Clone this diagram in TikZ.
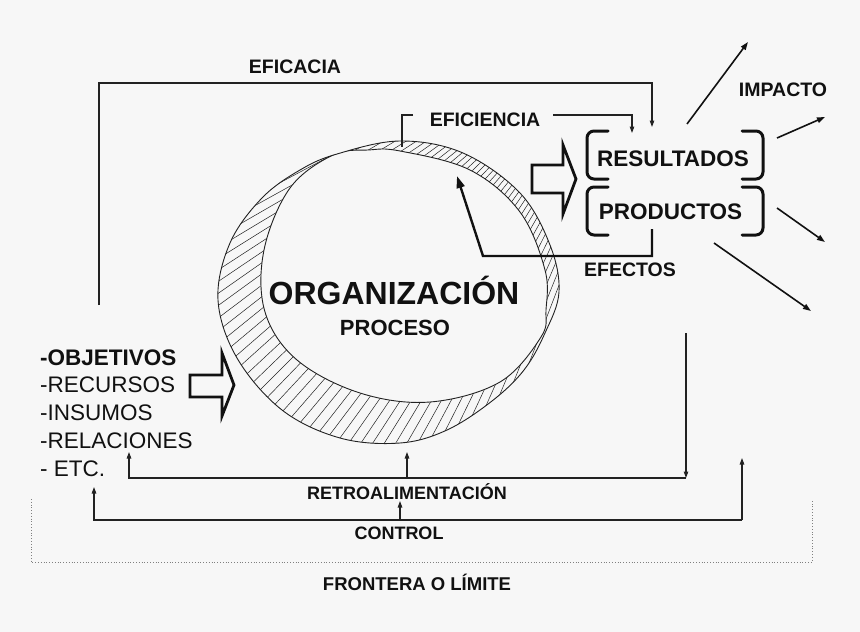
\documentclass[tikz,border=0pt]{standalone}
\usepackage{fontspec}
\setmainfont{Liberation Sans}
\usetikzlibrary{arrows.meta}
\definecolor{bg}{HTML}{F7F7F7}
\definecolor{ink}{HTML}{111111}
\definecolor{lin}{HTML}{222222}
\begin{document}
\begin{tikzpicture}[x=1pt,y=-1pt,
  lbl/.style={inner sep=0pt, anchor=base, text=ink, font=\bfseries\fontsize{19.5}{20}\selectfont},
  small/.style={lbl, font=\bfseries\fontsize{18}{18}\selectfont},
  big/.style={lbl, font=\bfseries\fontsize{22.5}{23}\selectfont},
  item/.style={inner sep=0pt, anchor=base west, text=ink, font=\fontsize{22.5}{23}\selectfont},
  conn/.style={draw=lin, line width=1.1pt},
  tipa/.style={-{Triangle[length=6.5pt,width=4.5pt]}},
  imp/.style={draw=ink, line width=1.6pt, -{Triangle[length=8pt,width=5.5pt]}},
  brk/.style={draw=ink, line width=3pt, rounded corners=7pt, line cap=round},
  blockarrow/.style={draw=ink, fill=bg, line width=2.8pt, line join=miter},
  ring/.style={draw=lin, line width=0.9pt},
  hatch/.style={draw=lin, line width=0.5pt}]
\fill[bg] (0,0) rectangle (860,632);
\useasboundingbox (0,0) rectangle (860,632);

% ---- ring (organization) ----
\def\outerpath{plot[smooth cycle, tension=0.6] coordinates {(400,141) (463,153) (520,193) (550,245) (559,292) (545,333) (524,370) (492,401) (447,430) (400,443) (340,438) (282,410) (237,358) (218,300) (230,243) (262,198) (300,170) (337,154)}}
\def\innerpath{plot[smooth cycle, tension=0.6] coordinates {(400,151) (470,170) (520,212) (545,270) (546,310) (541,337) (500,382) (430,402) (360,393) (297,360) (265,312) (264,250) (290,188) (333,155) (368,150)}}
\begin{scope}
  \clip \outerpath;
  \foreach \a in {104,105,...,158}{
    \draw[hatch] (680,-30) -- ({680+900*cos(\a)},{-30+900*sin(\a)});
  }
  \fill[bg] \innerpath;
  \draw[ring] \innerpath;
\end{scope}
\draw[ring] \outerpath;

\node[lbl, font=\bfseries\fontsize{32}{32}\selectfont] (org) at (394,304) {ORGANIZACIÓN};
\node[lbl, font=\bfseries\fontsize{22}{22}\selectfont] (proc) at (395,335) {PROCESO};

% ---- texts ----
\node[lbl] (eficacia) at (295,73.5) {EFICACIA};
\node[lbl] (eficiencia) at (485,126) {EFICIENCIA};
\node[lbl] (impacto) at (783,96) {IMPACTO};
\node[big] (resultados) at (673,166.7) {RESULTADOS};
\node[big] (productos) at (670.5,219) {PRODUCTOS};
\node[lbl] (efectos) at (630,276.7) {EFECTOS};
\node[small] (retro) at (407,499.3) {RETROALIMENTACIÓN};
\node[small] (control) at (399,539) {CONTROL};
\node[small, font=\bfseries\fontsize{18.5}{18.5}\selectfont] (frontera) at (417,590) {FRONTERA O LÍMITE};

\node[item, font=\bfseries\fontsize{22.5}{23}\selectfont] (obj) at (40,365) {-OBJETIVOS};
\node[item] (rec) at (40,392.7) {-RECURSOS};
\node[item] (ins) at (40,420.7) {-INSUMOS};
\node[item] (rel) at (40,448.3) {-RELACIONES};
\node[item] (etc) at (40,476.7) {- ETC.};

% ---- brackets ----
\draw[brk] (608,131) -- (587,131) -- (587,179) -- (608,179);
\draw[brk] (742,131) -- (763,131) -- (763,179) -- (742,179);
\draw[brk] (608,187) -- (587,187) -- (587,235) -- (608,235);
\draw[brk] (742,187) -- (763,187) -- (763,235) -- (742,235);

% ---- block arrows ----
\draw[blockarrow] (532,165) -- (563,165) -- (563,145) -- (576,179) -- (563,214) -- (563,193) -- (532,193) -- cycle;
\draw[blockarrow] (190,375) -- (222,375) -- (222,353) -- (234,385) -- (222,416) -- (222,397) -- (190,397) -- cycle;

% ---- coordinates ----
\coordinate (ea) at (99,305);
\coordinate (eb) at (99,83);
\coordinate (ec) at (652,83);
\coordinate (ed) at (652,127);
\coordinate (fa) at (413,115);
\coordinate (fb) at (402,115);
\coordinate (fc) at (402,147);
\coordinate (fd) at (553,115);
\coordinate (fe) at (632,115);
\coordinate (ff) at (632,133);
\coordinate (xa) at (652,229);
\coordinate (xb) at (652,256);
\coordinate (xc) at (483,256);
\coordinate (xd) at (457,176);
\coordinate (ra) at (686,333);
\coordinate (rb) at (686,478);
\coordinate (rc) at (129,478);
\coordinate (rd) at (129,452);
\coordinate (re) at (407,478);
\coordinate (rf) at (407,452);
\coordinate (ca) at (742,520);
\coordinate (cb) at (742,458);
\coordinate (cc) at (94,520);
\coordinate (cd) at (94,487);
\coordinate (ce) at (400,520);
\coordinate (cf) at (400,501);
\coordinate (i1a) at (687,124);
\coordinate (i1b) at (748,42);
\coordinate (i2a) at (777,138);
\coordinate (i2b) at (825,117);
\coordinate (i3a) at (777,208);
\coordinate (i3b) at (825,242);
\coordinate (i4a) at (714,243);
\coordinate (i4b) at (811,311);
\coordinate (ba) at (31,499);
\coordinate (bb) at (31,562);
\coordinate (bc) at (812,562);
\coordinate (bd) at (812,499);

% ---- connectors ----
\draw[conn, tipa] (ea) -- (eb) -- (ec) -- (ed);
\draw[conn] (fa) -- (fb) -- (fc);
\draw[conn, tipa] (fd) -- (fe) -- (ff);
\draw[draw=ink, line width=2.4pt, -{Triangle[length=12pt,width=8pt]}] (xa) -- (xb) -- (xc) -- (xd);
\draw[conn, tipa] (ra) -- (rb);
\draw[conn, tipa] (rb) -- (rc) -- (rd);
\draw[conn, tipa] (re) -- (rf);
\draw[conn, tipa] (ca) -- (cb);
\draw[conn, tipa] (ca) -- (cc) -- (cd);
\draw[conn, tipa] (ce) -- (cf);
\draw[imp] (i1a) -- (i1b);
\draw[imp] (i2a) -- (i2b);
\draw[imp] (i3a) -- (i3b);
\draw[imp] (i4a) -- (i4b);
\draw[draw=gray, line width=0.8pt, dotted] (ba) -- (bb) -- (bc) -- (bd);
\end{tikzpicture}
\end{document}
